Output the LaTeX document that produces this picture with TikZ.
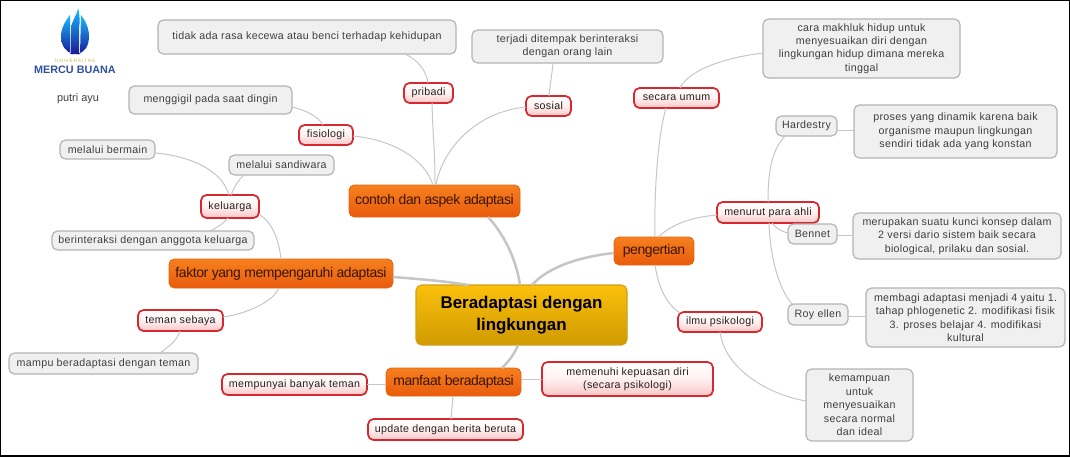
\documentclass[tikz,border=0pt]{standalone}
\usepackage{fontspec}
\setmainfont{Liberation Sans}
\newfontfamily\smallfam[LetterSpace=3]{Liberation Sans}
\newfontfamily\mainfam[LetterSpace=-3]{Liberation Sans}
\newfontfamily\centfam[LetterSpace=0]{Liberation Sans}
\definecolor{txtgrey}{HTML}{3F3F3F}
\definecolor{txtred}{HTML}{222222}
\definecolor{txtmain}{HTML}{3A1500}
\definecolor{linegrey}{HTML}{C6C6C6}
\definecolor{logoblue}{HTML}{2F4F9F}
\definecolor{redline}{HTML}{D6282E}
\definecolor{redfill}{HTML}{F9C6C6}
\definecolor{greyline}{HTML}{B4B4B4}
\definecolor{greyfill}{HTML}{F0F0F0}
\definecolor{ortop}{HTML}{F6801F}
\definecolor{orbot}{HTML}{E95B0C}
\definecolor{orline}{HTML}{E8640F}
\definecolor{cetop}{HTML}{FBC00A}
\definecolor{cebot}{HTML}{D09A02}
\definecolor{celine}{HTML}{CFA01A}
\tikzset{
  box/.style={rounded corners=5.5*0.75pt,inner sep=0pt,outer sep=0pt,align=center},
  greybox/.style={box,draw=greyline,line width=0.9pt,fill=greyfill,text=txtgrey,font=\smallfam\fontsize{8pt}{10.1pt}\selectfont},
  redbox/.style={box,draw=redline,line width=1.3pt,top color=white,bottom color=redfill,middle color=red!6,text=txtred,font=\smallfam\fontsize{8pt}{10.1pt}\selectfont},
  mainbox/.style={box,draw=orline,line width=0.7pt,top color=ortop,bottom color=orbot,text=txtmain,font=\mainfam\fontsize{10.5pt}{13pt}\selectfont},
  centbox/.style={box,draw=celine,line width=0.8pt,top color=cetop,bottom color=cebot,text=black,font=\centfam\bfseries\fontsize{12.7pt}{16pt}\selectfont},
  conn/.style={draw=linegrey,line width=0.75pt},
  thickconn/.style={draw=linegrey,line width=1.9pt},
  plain/.style={inner sep=0pt,text=txtgrey,font=\fontsize{8.2pt}{10pt}\selectfont},
}
\newcommand\bx[7]{\node[#1,minimum width={(#5-#3)*0.75pt},minimum height={(#6-#4)*0.75pt}] (#2) at ({(#3+#5)/2},{(#4+#6)/2}) {#7};}
\begin{document}
\begin{tikzpicture}[x=0.75pt,y=-0.75pt]
\useasboundingbox (0,0) rectangle (1070,457);
\draw[black,line width=1.1pt] (0.7,0.7) rectangle (1069.3,456);
% logo
\shade[top color=cyan!70!blue!90,bottom color=blue!55!black!90] (73,54) .. controls (66,52) and (61,46) .. (61,36) .. controls (61,28) and (66,20) .. (70,15) -- (70.5,54) -- cycle;
\shade[top color=cyan!70!blue!90,bottom color=blue!55!black!90] (71.5,54) -- (71.5,28) .. controls (71.5,20) and (77,16) .. (78,8) .. controls (80,16) and (80,22) .. (79,28) -- (79,54) -- cycle;
\shade[top color=cyan!70!blue!90,bottom color=blue!55!black!90] (77,54) .. controls (85,52) and (89,46) .. (89,36) .. controls (89,28) and (85,20) .. (81,15) -- (80,54) -- cycle;
\node[inner sep=0pt,text=olive!60,font=\fontsize{3.6pt}{4pt}\selectfont] (univ) at (75,61) {U\,N\,I\,V\,E\,R\,S\,I\,T\,A\,S};
\node[inner sep=0pt,text=logoblue,font=\bfseries\fontsize{8.1pt}{10pt}\selectfont] (mercu) at (75,70) {MERCU BUANA};
\node[plain] (putri) at (78,99) {putri ayu};
% centre and branches
\bx{centbox}{central}{416}{285}{627}{345}{Beradaptasi dengan\\lingkungan}
\bx{mainbox}{contoh}{349}{185}{520}{217}{contoh dan aspek adaptasi}
\bx{mainbox}{faktor}{169}{259}{393}{288}{faktor yang mempengaruhi adaptasi}
\bx{mainbox}{pengertian}{614}{237}{694}{265}{pengertian}
\bx{mainbox}{manfaat}{386}{368}{521}{396}{manfaat beradaptasi}
% red
\bx{redbox}{pribadi}{404}{83}{453}{103}{pribadi}
\bx{redbox}{sosial}{526}{96}{571}{116}{sosial}
\bx{redbox}{fisiologi}{299}{125}{353}{145}{fisiologi}
\bx{redbox}{keluarga}{201}{195}{259}{218}{keluarga}
\bx{redbox}{teman}{138}{310}{223}{331}{teman sebaya}
\bx{redbox}{mempunyai}{222}{374}{367}{395}{mempunyai banyak teman}
\bx{redbox}{update}{368}{419}{523}{440}{update dengan berita beruta}
\bx{redbox}{memenuhi}{542}{362}{713}{396}{memenuhi kepuasan diri\\(secara psikologi)}
\bx{redbox}{secara}{634}{88}{719}{108}{secara umum}
\bx{redbox}{menurut}{717}{202}{819}{223}{menurut para ahli}
\bx{redbox}{ilmu}{678}{312}{762}{332}{ilmu psikologi}
% grey
\bx{greybox}{tidak}{158}{20}{456}{54}{tidak ada rasa kecewa atau benci terhadap kehidupan}
\bx{greybox}{terjadi}{472}{30}{663}{63}{terjadi ditempak berinteraksi\\dengan orang lain}
\bx{greybox}{cara}{763}{19}{960}{78}{cara makhluk hidup untuk\\menyesuaikan diri dengan\\lingkungan hidup dimana mereka\\tinggal}
\bx{greybox}{hardestry}{776}{116}{837}{136}{Hardestry}
\bx{greybox}{proses}{854}{105}{1057}{158}{proses yang dinamik karena baik\\organisme maupun lingkungan\\sendiri tidak ada yang konstan}
\bx{greybox}{bennet}{788}{224}{837}{244}{Bennet}
\bx{greybox}{merupakan}{853}{213}{1061}{259}{merupakan suatu kunci konsep dalam\\2 versi dario sistem baik secara\\biological, prilaku dan sosial.}
\bx{greybox}{roy}{788}{304}{848}{325}{Roy ellen}
\bx{greybox}{membagi}{866}{288}{1065}{347}{membagi adaptasi menjadi 4 yaitu 1.\\tahap phlogenetic 2. modifikasi fisik\\3. proses belajar 4. modifikasi\\kultural}
\bx{greybox}{kemampuan}{806}{369}{913}{441}{kemampuan\\untuk\\menyesuaikan\\secara normal\\dan ideal}
\bx{greybox}{menggigil}{129}{86}{292}{114}{menggigil pada saat dingin}
\bx{greybox}{bermain}{60}{140}{155}{159}{melalui bermain}
\bx{greybox}{sandiwara}{229}{155}{334}{175}{melalui sandiwara}
\bx{greybox}{berinteraksi}{52}{231}{254}{250}{berinteraksi dengan anggota keluarga}
\bx{greybox}{mampu}{9}{353}{198}{374}{mampu beradaptasi dengan teman}
% thick connectors
\draw[thickconn] ([shift={(104,0)}]central.north west) .. controls +(-4,-27) and +(15,16) .. ([shift={(139,32)}]contoh.north west);
\draw[thickconn] ([shift={(52,0)}]central.north west) .. controls +(-23,-4) and +(25,2) .. ([shift={(224,18)}]faktor.north west);
\draw[thickconn] ([shift={(116,0)}]central.north west) .. controls +(18,-20) and +(-29,3) .. ([shift={(0,16)}]pengertian.north west);
\draw[thickconn] ([shift={(102,60)}]central.north west) .. controls +(-4,10) and +(6,-6) .. ([shift={(116,0)}]manfaat.north west);
% thin connectors
\draw[conn] ([shift={(86,0)}]contoh.north west) .. controls +(0,-40) and +(1,40) .. ([shift={(28,20)}]pribadi.north west);
\draw[conn] ([shift={(87,0)}]contoh.north west) .. controls +(6,-35) and +(-51,5) .. ([shift={(0,11)}]sosial.north west);
\draw[conn] ([shift={(84,0)}]contoh.north west) .. controls +(-8,-25) and +(42,4) .. ([shift={(54,11)}]fisiologi.north west);
\draw[conn] ([shift={(24,0)}]pribadi.north west) .. controls +(-2,-13) and +(13,6) .. ([shift={(247,34)}]tidak.north west);
\draw[conn] ([shift={(23,0)}]sosial.north west) .. controls +(1,-12) and +(-1,12) .. ([shift={(81,33)}]terjadi.north west);
\draw[conn] ([shift={(24,0)}]fisiologi.north west) .. controls +(-5,-9) and +(13,3) .. ([shift={(163,21)}]menggigil.north west);
\draw[conn] ([shift={(112,0)}]faktor.north west) .. controls +(-2,-19) and +(12,7) .. ([shift={(59,20)}]keluarga.north west);
\draw[conn] ([shift={(110,29)}]faktor.north west) .. controls +(-7,15) and +(22,-3) .. ([shift={(85,7)}]teman.north west);
\draw[conn] ([shift={(28,0)}]keluarga.north west) .. controls +(-7,-25) and +(35,3) .. ([shift={(95,13)}]bermain.north west);
\draw[conn] ([shift={(30,0)}]keluarga.north west) .. controls +(4,-9) and +(-6,5) .. ([shift={(15,20)}]sandiwara.north west);
\draw[conn] ([shift={(27,23)}]keluarga.north west) .. controls +(-5,6) and +(6,-3) .. ([shift={(158,0)}]berinteraksi.north west);
\draw[conn] ([shift={(42,21)}]teman.north west) .. controls +(-3,10) and +(8,-6) .. ([shift={(151,0)}]mampu.north west);
\draw[conn] ([shift={(0,16)}]manfaat.north west) -- ([shift={(145,10)}]mempunyai.north west);
\draw[conn] ([shift={(135,11)}]manfaat.north west) -- ([shift={(0,17)}]memenuhi.north west);
\draw[conn] ([shift={(67,28)}]manfaat.north west) -- ([shift={(83,0)}]update.north west);
\draw[conn] ([shift={(41,0)}]pengertian.north west) .. controls +(-1,-47) and +(-8,27) .. ([shift={(32,20)}]secara.north west);
\draw[conn] ([shift={(44,0)}]pengertian.north west) .. controls +(17,-15) and +(-22,2) .. ([shift={(0,13)}]menurut.north west);
\draw[conn] ([shift={(41,28)}]pengertian.north west) .. controls +(3,20) and +(-15,-10) .. ([shift={(2,1)}]ilmu.north west);
\draw[conn] ([shift={(46,0)}]secara.north west) .. controls +(10,-20) and +(-33,4) .. ([shift={(0,34)}]cara.north west);
\draw[conn] ([shift={(51,0)}]menurut.north west) .. controls +(0,-32) and +(-13,14) .. ([shift={(9,20)}]hardestry.north west);
\draw[conn] ([shift={(55,21)}]menurut.north west) .. controls +(4,5) and +(-8,-2) .. ([shift={(0,9)}]bennet.north west);
\draw[conn] ([shift={(52,21)}]menurut.north west) .. controls +(1,32) and +(-14,-16) .. ([shift={(4,0)}]roy.north west);
\draw[conn] ([shift={(61,14)}]hardestry.north west) -- ([shift={(0,25)}]proses.north west);
\draw[conn] ([shift={(49,11)}]bennet.north west) -- ([shift={(0,22)}]merupakan.north west);
\draw[conn] ([shift={(60,12)}]roy.north west) -- ([shift={(0,28)}]membagi.north west);
\draw[conn] ([shift={(42,20)}]ilmu.north west) .. controls +(5,38) and +(-36,-6) .. ([shift={(0,32)}]kemampuan.north west);
\end{tikzpicture}
\end{document}
